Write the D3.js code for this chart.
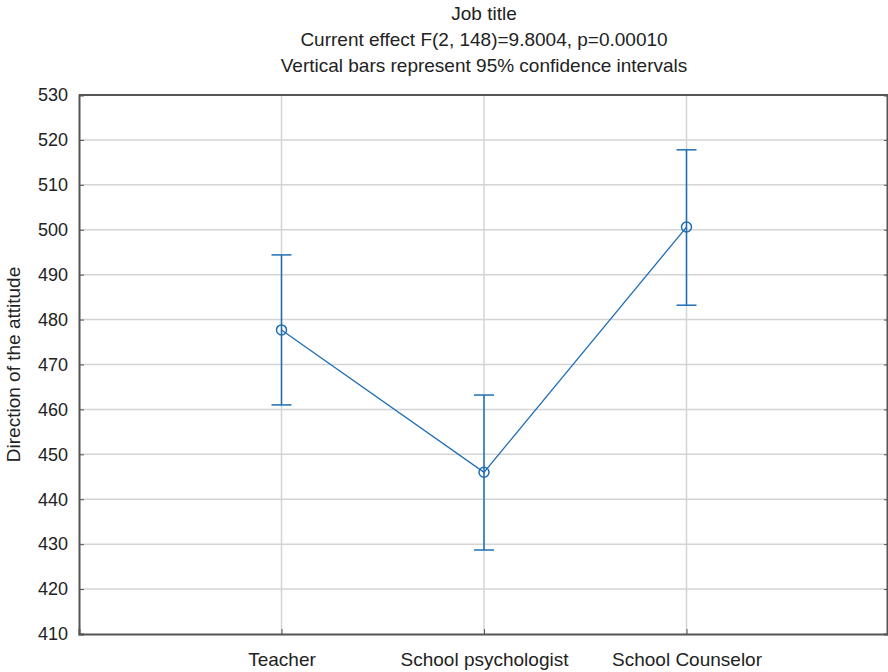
<!DOCTYPE html>
<html>
<head>
<meta charset="utf-8">
<script src="https://cdn.jsdelivr.net/npm/d3@7"></script>
<style>
  body { margin: 0; background: #fff; }
  text { font-family: Arial, "Liberation Sans", sans-serif; fill: #222; }
</style>
</head>
<body>
<div id="chart"></div>
<script>
// values
var categories = ["Teacher", "School psychologist", "School Counselor"];
var means = [477.7, 446.0, 500.6];
var upper = [494.4, 463.2, 517.8];
var lower = [461.0, 428.7, 483.2];
var yTicks = [410, 420, 430, 440, 450, 460, 470, 480, 490, 500, 510, 520, 530];
var titleLines = ["Job title", "Current effect F(2, 148)=9.8004, p=0.00010", "Vertical bars represent 95% confidence intervals"];

var W = 888, H = 672;
var margin = { left: 79, right: 889, top: 95, bottom: 634 };
var blue = "#1f6eb5";
var axisColor = "#555";

var svg = d3.select("#chart").append("svg")
  .attr("width", W).attr("height", H);

var x = d3.scaleLinear().domain([0, categories.length + 1]).range([margin.left, margin.right]);
var y = d3.scaleLinear().domain([410, 530]).range([margin.bottom, margin.top]);

// title
svg.selectAll(".title").data(titleLines).enter().append("text")
  .attr("class", "title")
  .attr("x", 484).attr("y", function (d, i) { return 20 + i * 26; })
  .attr("text-anchor", "middle")
  .style("font-size", "19px")
  .text(function (d) { return d; });

// grid lines
svg.append("g").selectAll("line").data(yTicks.slice(1, -1)).enter().append("line")
  .attr("x1", margin.left).attr("x2", W)
  .attr("y1", function (d) { return y(d); }).attr("y2", function (d) { return y(d); })
  .attr("stroke", "#d4d4d4").attr("stroke-width", 1.5);
svg.append("g").selectAll("line").data(categories).enter().append("line")
  .attr("x1", function (d, i) { return x(i + 1); }).attr("x2", function (d, i) { return x(i + 1); })
  .attr("y1", margin.top).attr("y2", margin.bottom)
  .attr("stroke", "#d4d4d4").attr("stroke-width", 1.5);

// y axis
var yAxis = svg.append("g")
  .attr("transform", "translate(" + margin.left + ",0)")
  .call(d3.axisLeft(y).tickValues(yTicks).tickSize(-5).tickPadding(11));
yAxis.selectAll("text").style("font-size", "18px").attr("fill", "#222");

// right side ticks
svg.append("g")
  .attr("transform", "translate(" + (W - 1) + ",0)")
  .call(d3.axisRight(y).tickValues(yTicks).tickSize(-3).tickFormat(""));

// x axis
var xAxis = svg.append("g")
  .attr("transform", "translate(0," + margin.bottom + ")")
  .call(d3.axisBottom(x).tickValues([1, 2, 3]).tickSize(-5).tickPadding(19)
    .tickFormat(function (d) { return categories[d - 1]; }));
xAxis.selectAll("text").style("font-size", "19px").attr("fill", "#222");

svg.selectAll(".domain, .tick line").attr("stroke", axisColor);
svg.selectAll(".domain").attr("stroke-width", 2);

// top frame
svg.append("line")
  .attr("x1", margin.left).attr("x2", W).attr("y1", margin.top).attr("y2", margin.top)
  .attr("stroke", axisColor).attr("stroke-width", 2);

// y label
svg.append("text")
  .attr("transform", "translate(20," + ((margin.top + margin.bottom) / 2) + ") rotate(-90)")
  .attr("text-anchor", "middle")
  .style("font-size", "19px")
  .text("Direction of the attitude");

// mean line
var line = d3.line()
  .x(function (d, i) { return x(i + 1); })
  .y(function (d) { return y(d); });
svg.append("path").datum(means)
  .attr("d", line)
  .attr("fill", "none").attr("stroke", blue).attr("stroke-width", 1.3);

// error bars
var bars = svg.append("g").selectAll("g").data(categories).enter().append("g");
bars.append("line")
  .attr("x1", function (d, i) { return x(i + 1); }).attr("x2", function (d, i) { return x(i + 1); })
  .attr("y1", function (d, i) { return y(upper[i]); }).attr("y2", function (d, i) { return y(lower[i]); })
  .attr("stroke", blue).attr("stroke-width", 1.5);
bars.append("line")
  .attr("x1", function (d, i) { return x(i + 1) - 10; }).attr("x2", function (d, i) { return x(i + 1) + 10; })
  .attr("y1", function (d, i) { return y(upper[i]); }).attr("y2", function (d, i) { return y(upper[i]); })
  .attr("stroke", blue).attr("stroke-width", 1.5);
bars.append("line")
  .attr("x1", function (d, i) { return x(i + 1) - 10; }).attr("x2", function (d, i) { return x(i + 1) + 10; })
  .attr("y1", function (d, i) { return y(lower[i]); }).attr("y2", function (d, i) { return y(lower[i]); })
  .attr("stroke", blue).attr("stroke-width", 1.5);
bars.append("circle")
  .attr("cx", function (d, i) { return x(i + 1); })
  .attr("cy", function (d, i) { return y(means[i]); })
  .attr("r", 5)
  .attr("fill", "none").attr("stroke", blue).attr("stroke-width", 1.5);
</script>
</body>
</html>
